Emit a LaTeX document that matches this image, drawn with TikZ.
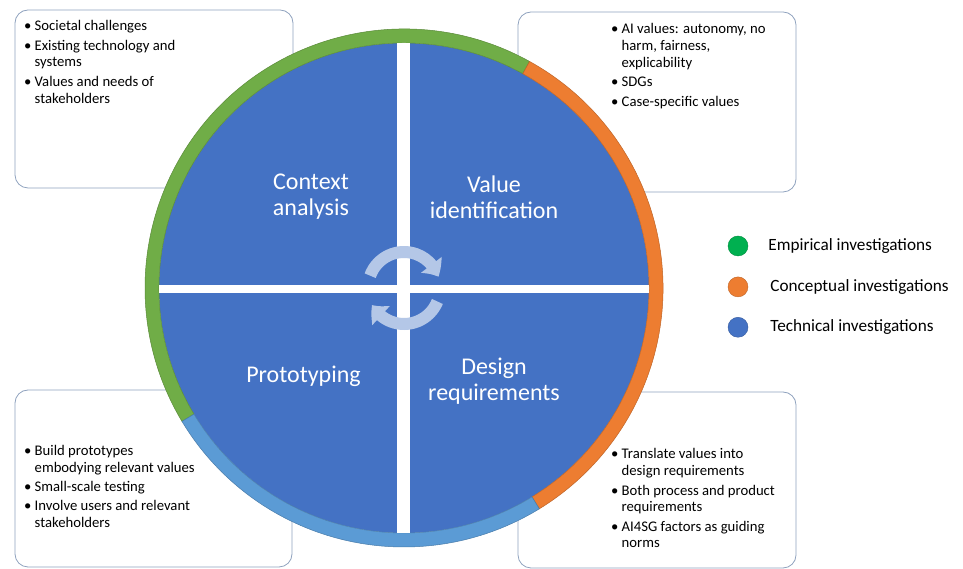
\documentclass[tikz,border=0pt]{standalone}
\usepackage{fontspec}
\setmainfont{Carlito}
\usepackage{tikz}
\usetikzlibrary{positioning}
\usetikzlibrary{arrows.meta,bending}

\definecolor{quadblue}{HTML}{4472C4}
\definecolor{ringgreen}{HTML}{70AD47}
\definecolor{ringorange}{HTML}{ED7D31}
\definecolor{ringblue}{HTML}{5B9BD5}
\definecolor{empgreen}{HTML}{00B050}
\definecolor{boxline}{HTML}{8FA2BE}
\definecolor{cyclearrow}{HTML}{B4C7E7}

\newcommand{\bul}{\makebox[10.5pt][l]{\textbullet}}
\newcommand{\cnt}{\hspace*{10.5pt}}

\begin{document}
\begin{tikzpicture}[x=1pt, y=1pt,
        infobox/.style={rectangle, rounded corners=13pt, draw=boxline, fill=white, line width=0.8pt},
        boxtext/.style={anchor=north west, inner sep=0pt, align=left, font=\fontsize{14.7}{16.8}\selectfont},
        quadlabel/.style={text=white, align=center, font=\fontsize{24}{26}\selectfont},
        legdot/.style={circle, draw=#1!80!black, fill=#1, minimum size=20pt, inner sep=0pt},
        legtext/.style={inner sep=0pt, font=\fontsize{17.2}{20}\selectfont},
        ringpart/.style={fill=#1, draw=#1!80!black, line width=0.5pt},
        cyclearc/.style={cyclearrow, line width=12pt, -{Triangle[width=25pt, length=14pt, bend]}}
      ]
        \useasboundingbox (0,0) rectangle (963,569);
        \coordinate (c) at (404,281);

        \node[infobox, minimum width=278pt, minimum height=178pt]  (ctxbox)    at (154,470)    {};
        \node[infobox, minimum width=278pt, minimum height=180pt]  (valbox)    at (657,467)    {};
        \node[infobox, minimum width=277pt, minimum height=177pt]  (protobox)  at (153.5,90.5) {};
        \node[infobox, minimum width=278pt, minimum height=176pt]  (reqbox)    at (657,89)     {};

        \node[boxtext]  (ctxtext)    at (24,548.5)  {\bul Societal challenges\\[2.5pt]\bul Existing technology and\\\cnt systems\\[2.5pt]\bul Values and needs of\\\cnt stakeholders};
        \node[boxtext]  (valtext)    at (611,545.5) {\bul AI values: autonomy, no\\\cnt harm, fairness,\\\cnt explicability\\[2.5pt]\bul SDGs\\[2.5pt]\bul Case-specific values};
        \node[boxtext]  (prototext)  at (24,124)    {\bul Build prototypes\\\cnt embodying relevant values\\[2.5pt]\bul Small-scale testing\\[2.5pt]\bul Involve users and relevant\\\cnt stakeholders};
        \node[boxtext]  (reqtext)    at (611,120.5) {\bul Translate values into\\\cnt design requirements\\[2.5pt]\bul Both process and product\\\cnt requirements\\[2.5pt]\bul AI4SG factors as guiding\\\cnt norms};

        \fill[quadblue] (c) circle[radius=245pt];
        \path[ringpart=ringgreen]  (c) ++(61:259pt) arc[start angle=61, end angle=211, radius=259pt] -- ++(211:-14pt) arc[start angle=211, end angle=61, radius=245pt] -- cycle;
        \path[ringpart=ringorange] (c) ++(61:259pt) arc[start angle=61, end angle=-58.5, radius=259pt] -- ++(-58.5:-14pt) arc[start angle=-58.5, end angle=61, radius=245pt] -- cycle;
        \path[ringpart=ringblue]   (c) ++(-58.5:259pt) arc[start angle=-58.5, end angle=-149, radius=259pt] -- ++(-149:-14pt) arc[start angle=-149, end angle=-58.5, radius=245pt] -- cycle;

        \begin{scope}
          \clip (c) circle[radius=245pt];
          \fill[white] (397,30) rectangle (410,532);
          \fill[white] (150,276) rectangle (660,284);
        \end{scope}

        \draw[cyclearc] (c) ++(160:36pt) arc[start angle=160, end angle=18, radius=36pt];
        \draw[cyclearc] (c) ++(-22:36pt) arc[start angle=-22, end angle=-152, radius=36pt];

        \node[quadlabel]  (ctxlabel)    at (311,372)   {Context\\analysis};
        \node[quadlabel]  (vallabel)    at (494,372)   {Value\\identification};
        \node[quadlabel]  (protolabel)  at (303.5,193) {Prototyping};
        \node[quadlabel]  (reqlabel)    at (494,188)   {Design\\requirements};

        \node[legdot=empgreen]    (empdot)   at (738,323)                {};
        \node[legdot=ringorange]  (concdot)  [below=20.5pt of empdot]    {};
        \node[legdot=quadblue]    (techdot)  [below=20pt of concdot]     {};
        \node[legtext]  (emplabel)   [right=20pt of empdot]   {Empirical investigations};
        \node[legtext]  (conclabel)  [right=22pt of concdot]  {Conceptual investigations};
        \node[legtext]  (techlabel)  [right=22pt of techdot]  {Technical investigations};
      \end{tikzpicture}
\end{document}
